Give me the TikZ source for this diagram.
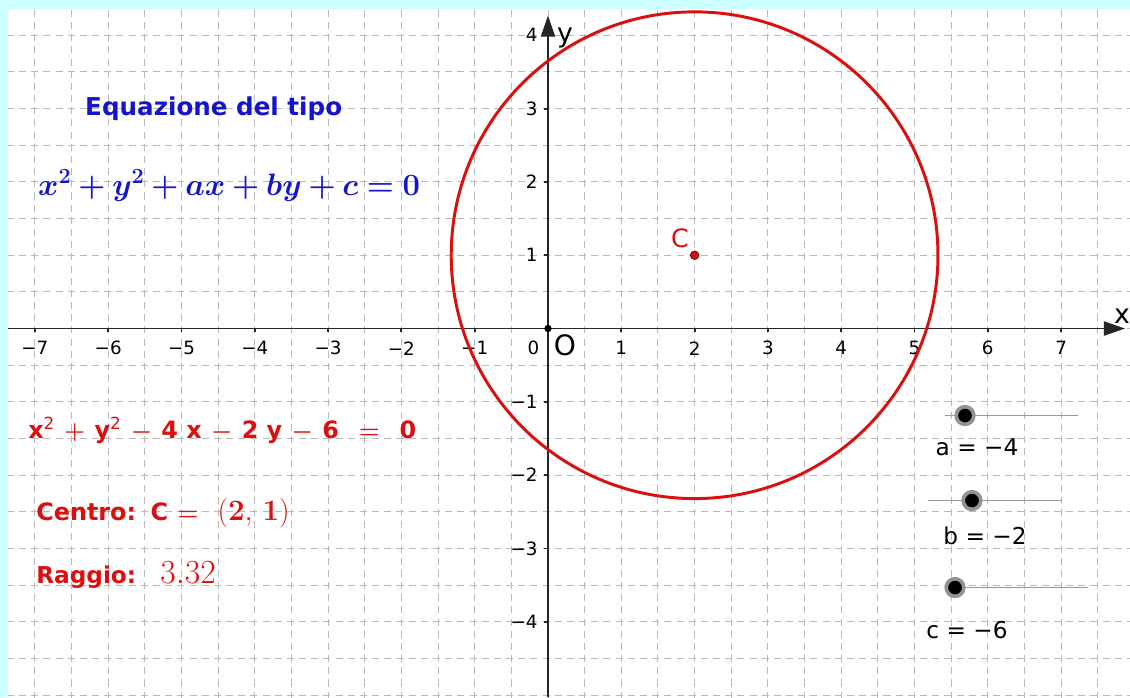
\RequirePackage{fix-cm}
\documentclass[tikz,border=0pt]{standalone}
\usepackage{amsmath}
\usepackage{bm}
\usepackage[no-math]{fontspec}
\setmainfont{DejaVu Sans}
\usetikzlibrary{arrows.meta}
\definecolor{bordo}{RGB}{204,255,255}
\definecolor{blu}{RGB}{20,20,205}
\definecolor{rosso}{RGB}{220,15,15}
\definecolor{griglia}{RGB}{185,185,185}
\tikzset{
  gridline/.style={griglia,line width=.7pt,dash pattern=on 5pt off 3.66pt,dash phase=2.5pt},
  asse/.style={line width=1.3pt,black!85,-{Triangle[length=15pt,width=10pt]}},
  tacca/.style={line width=1.3pt,black!85},
  numlab/.style={inner sep=0pt,font=\fontsize{13}{13}\selectfont},
  testo/.style={inner sep=0pt,anchor=west},
  cerchio/.style={rosso,line width=2.1pt},
  punto/.style={circle,fill=rosso,draw=rosso!50!black,line width=.6pt,inner sep=0pt,minimum size=6pt},
  binario/.style={gray!80,line width=.7pt},
  knob/.style={circle,fill=black,draw=gray!85,line width=2.6pt,inner sep=0pt,minimum size=12.5pt},
  slab/.style={inner sep=0pt,font=\fontsize{16.5}{16.5}\selectfont}
}
\begin{document}
\begin{tikzpicture}[x=1.8325cm,y=1.8325cm]
\fill[bordo] (-7.476,-5.027) rectangle (7.940,4.482);
\fill[white] (-7.367,-5.027) rectangle (7.940,4.359);
\begin{scope}
\clip (-7.367,-5.027) rectangle (7.940,4.359);
\draw[gridline] (-7.5,-5.5) grid[step=.5] (8,4.5);
\end{scope}
\coordinate (xs) at (-7.367,0); \coordinate (xe) at (7.872,0);
\coordinate (ys) at (0,-5.027); \coordinate (ye) at (0,4.27);
\draw[asse] (xs) -- (xe); \draw[asse] (ys) -- (ye);
\node[font=\fontsize{19}{19}\selectfont,inner sep=0pt] (xl) at (7.83,.17) {x};
\node[font=\fontsize{19}{19}\selectfont,inner sep=0pt] (yl) at (.232,3.97) {y};
\foreach \i in {-7,...,-1,1,2,...,7}{
  \draw[tacca] (\i,0) -- (\i,-.05);
  \node[numlab] (nx\i) at (\i,-.27) {\ifnum\i<0 −\the\numexpr-\i\relax\else\i\fi};}
\foreach \j in {-4,...,-1,1,2,3,4}{
  \draw[tacca] (0,\j) -- (-.05,\j);
  \node[numlab,anchor=east] (ny\j) at (-.14,\j) {\ifnum\j<0 −\the\numexpr-\j\relax\else\j\fi};}
\node[numlab] (zero) at (-.2,-.26) {0};
\node[font=\fontsize{20}{20}\selectfont,inner sep=0pt] (O) at (.232,-.235) {O};
\fill[black] (0,0) circle (.05);
\coordinate (Cc) at (2,1);
\draw[cerchio] (Cc) circle (3.32);
\node[punto] (C) at (Cc) {};
\node[rosso,font=\fontsize{18}{18}\selectfont,inner sep=0pt] (Cl) at (1.80,1.23) {C};
\node[testo,blu,font=\fontsize{17.5}{20}\selectfont\bfseries] (tipo) at (-6.317,3.0) {Equazione del tipo};
\node[testo,blu,font=\fontsize{22}{22}\selectfont] (eqgen) at (-6.958,1.951) {$\bm{x^2+y^2+ax+by+c=0}$};
\node[testo,rosso,font=\fontsize{17}{18}\selectfont\bfseries] (eqcirc) at (-7.094,-1.392)
  {$\medmuskip=7mu\text{x}^{\textnormal{2}}\bm{+}\text{y}^{\textnormal{2}}\bm{-}\text{4 x}\bm{-}\text{2 y}\bm{-}\text{6}\;\;\bm{=}\;\;\text{0}$};
\node[testo,rosso,font=\fontsize{17}{18}\selectfont\bfseries] (centro) at (-6.985,-2.524)
  {Centro:\hspace{.6em}C\hspace{.4em}$\bm{=}$\hspace{.8em}{\fontsize{21}{21}\selectfont$\mathbf{(2,\,1)}$}};
\node[testo,rosso,font=\fontsize{16.5}{18}\selectfont\bfseries] (raggio) at (-6.985,-3.397) {Raggio:};
\node[testo,rosso,font=\fontsize{24}{24}\selectfont] (rval) at (-5.293,-3.329) {$3.32$};
\foreach \n/\xa/\xb/\y/\xk/\xl/\yl/\v in {a/5.416/7.231/-1.187/5.689/5.853/-1.623/4,
  b/5.184/7.012/-2.347/5.784/5.962/-2.824/2, c/5.416/7.367/-3.534/5.553/5.716/-4.120/6}{
  \coordinate (\n0) at (\xa,\y); \coordinate (\n1) at (\xb,\y);
  \draw[binario] (\n0) -- (\n1);
  \node[knob] (k\n) at (\xk,\y) {};
  \node[slab] (l\n) at (\xl,\yl) {\n{} = −\v};}
\end{tikzpicture}
\end{document}
